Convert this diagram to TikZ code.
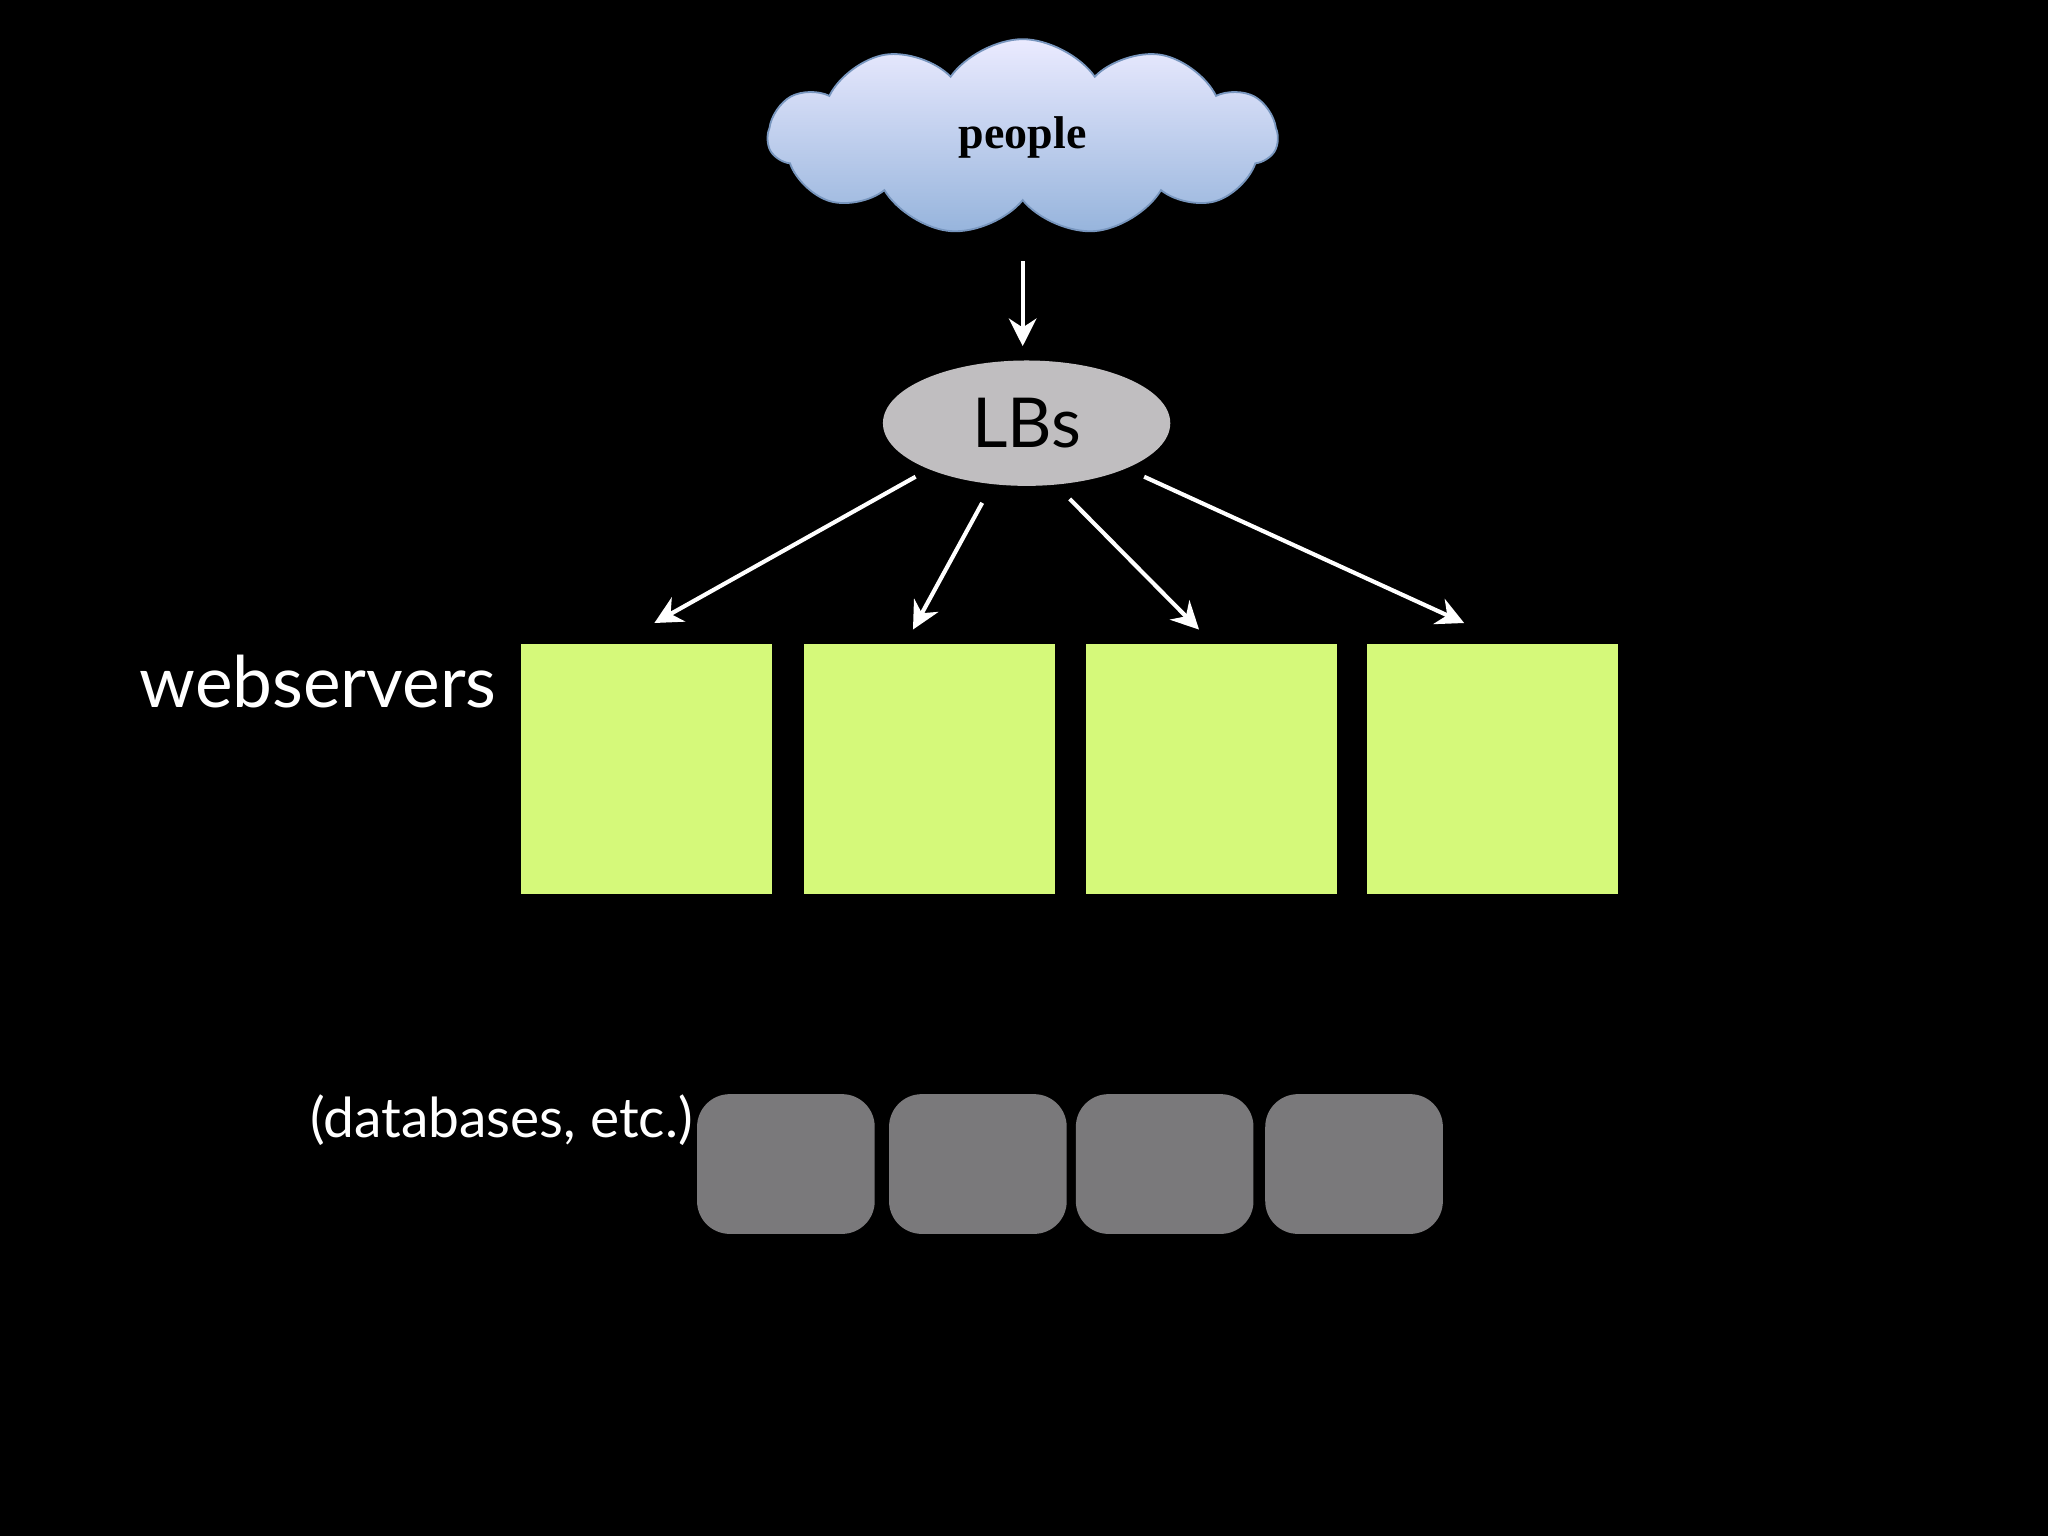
\documentclass[tikz,border=0pt]{standalone}
\usepackage{fontspec}
\setmainfont{Lato}
\newfontfamily\serifb{Liberation Serif}
\usetikzlibrary{shapes.symbols,shapes.geometric,arrows.meta}
\definecolor{green1}{HTML}{D5F97A}
\definecolor{dbgrey}{HTML}{7A797B}
\definecolor{lbgrey}{HTML}{C0BEC0}
\begin{document}
\begin{tikzpicture}[x=0.01cm,y=-0.01cm,
  ws/.style={fill=green1,draw=none,minimum width=192*0.01cm,minimum height=192*0.01cm,inner sep=0,anchor=north west},
  db/.style={fill=dbgrey,draw=none,rounded corners=0.25cm,minimum width=136*0.01cm,minimum height=107*0.01cm,inner sep=0,anchor=north west},
  arr/.style={draw=white,line width=0.9pt,-{Stealth[length=6pt,width=6pt]}},
  lbl/.style={text=white,inner sep=0}]
\fill[black] (0,0) rectangle (1568,1176);
\node[cloud,cloud puffs=11,cloud puff arc=110,aspect=2.5,minimum width=390*0.01cm,minimum height=150*0.01cm,
  top color=blue!8!white,bottom color={rgb,255:red,150;green,180;blue,220},draw={rgb,255:red,120;green,150;blue,190},
  font=\serifb\bfseries\fontsize{10}{12}\selectfont] (cloud) at (783,105) {people};
\node[ellipse,fill=lbgrey,minimum width=220*0.01cm,minimum height=96*0.01cm,inner sep=0,font=\fontsize{15}{18}\selectfont] (lb) at (786,324) {LBs};
\node[ws] (w1) at (398,492) {};
\node[ws] (w2) at (615,492) {};
\node[ws] (w3) at (831,492) {};
\node[ws] (w4) at (1046,492) {};
\node[db] (d1) at (533,837) {};
\node[db] (d2) at (680,837) {};
\node[db] (d3) at (823,837) {};
\node[db] (d4) at (968,837) {};
\node[lbl,anchor=east,font=\fontsize{15.5}{18}\selectfont] (wl) at (381,522) {webservers};
\node[lbl,anchor=east,font=\fontsize{12}{14}\selectfont] (dl) at (531,858) {(databases, etc.)};
\coordinate (c0) at (783,200); \coordinate (c1) at (783,265);
\draw[arr] (c0) -- (c1);
\coordinate (a1) at (701,365); \coordinate (b1) at (501,477);
\coordinate (a2) at (752,385); \coordinate (b2) at (699,482);
\coordinate (a3) at (819,382); \coordinate (b3) at (918,482);
\coordinate (a4) at (876,365); \coordinate (b4) at (1121,477);
\draw[arr] (a1) -- (b1);
\draw[arr] (a2) -- (b2);
\draw[arr] (a3) -- (b3);
\draw[arr] (a4) -- (b4);
\end{tikzpicture}
\end{document}
